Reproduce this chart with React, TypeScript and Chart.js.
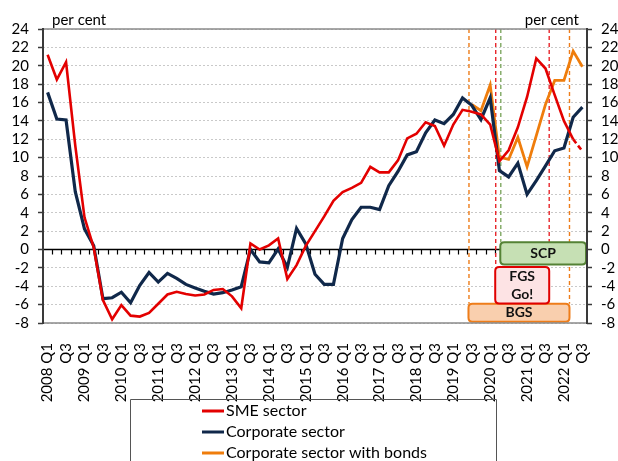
import React, { useEffect, useRef } from 'react';
import { Chart, registerables } from 'chart.js';

Chart.register(...registerables);

const years = [2008, 2009, 2010, 2011, 2012, 2013, 2014, 2015, 2016, 2017, 2018, 2019, 2020, 2021, 2022];
const quarters: string[] = [];
years.forEach((y) => {
  [1, 2, 3, 4].forEach((q) => {
    if (y === 2022 && q > 3) return;
    quarters.push(`${y} Q${q}`);
  });
});

const tickLabels = [
  '2008 Q1', 'Q3', '2009 Q1', 'Q3', '2010 Q1', 'Q3', '2011 Q1', 'Q3', '2012 Q1', 'Q3',
  '2013 Q1', 'Q3', '2014 Q1', 'Q3', '2015 Q1', 'Q3', '2016 Q1', 'Q3', '2017 Q1', 'Q3',
  '2018 Q1', 'Q3', '2019 Q1', 'Q3', '2020 Q1', 'Q3', '2021 Q1', 'Q3', '2022 Q1', 'Q3',
];

const yTicks = [24, 22, 20, 18, 16, 14, 12, 10, 8, 6, 4, 2, 0, -2, -4, -6, -8];

const smeSector = [
  21.2, 18.5, 20.4, 11.3, 3.5, 0.2, -5.5, -7.6, -6.05, -7.2,
  -7.3, -6.9, -5.9, -4.9, -4.6, -4.85, -5.0, -4.9, -4.4, -4.3,
  -5.1, -6.4, 0.65, 0.0, 0.45, 1.2, -3.2, -1.7, 0.4, 2.0,
  3.6, 5.3, 6.25, 6.7, 7.25, 9.0, 8.4, 8.4, 9.7, 12.1,
  12.6, 13.85, 13.45, 11.3, 13.6, 15.2, 15.0, 14.7, 13.6, 9.6,
  10.8, 13.3, 16.6, 20.8, 19.7, 16.8, 14.0, 12.0, 10.7,
];

const corporateSector = [
  17.1, 14.2, 14.1, 6.3, 2.25, 0.4, -5.35, -5.25, -4.65, -5.8,
  -3.9, -2.5, -3.55, -2.6, -3.15, -3.8, -4.2, -4.55, -4.85, -4.7,
  -4.4, -4.05, 0.0, -1.35, -1.45, 0.05, -1.95, 2.3, 0.6, -2.7,
  -3.8, -3.8, 1.2, 3.25, 4.6, 4.6, 4.35, 6.95, 8.5, 10.3,
  10.65, 12.7, 14.1, 13.7, 14.7, 16.5, 15.7, 14.15, 16.5, 8.6,
  7.9, 9.4, 6.0, 7.5, 9.1, 10.75, 11.05, 14.4, 15.5,
];

const corporateWithBonds = [
  null, null, null, null, null, null, null, null, null, null,
  null, null, null, null, null, null, null, null, null, null,
  null, null, null, null, null, null, null, null, null, null,
  null, null, null, null, null, null, null, null, null, null,
  null, null, null, null, null, null, 15.8, 15.1, 17.9, 10.05,
  9.8, 12.2, 9.0, 12.4, 15.8, 18.4, 18.4, 21.6, 19.9,
];

// Programmes: name, start / end as fractional category positions
const programmeNames = ['BGS', 'FGS Go!', 'SCP'];
const programmeStart = [45.7, 48.6, 49.15];
const programmeEnd = [56.6, 54.4, 58.4];

const FONT = 'Lato, "Open Sans", sans-serif';

const progStyle = [
  { top: -5.9, bottom: -7.87, fill: '#f9cfae', stroke: '#ee7d1a', line: '#ee7d1a', lines: ['BGS'], endLine: true },
  { top: -1.9, bottom: -5.88, fill: '#fde3e4', stroke: '#e00000', line: '#e8252a', lines: ['FGS', 'Go!'], endLine: true },
  { top: 0.8, bottom: -1.63, fill: '#c6e0b4', stroke: '#548235', line: '#7fa862', lines: ['SCP'], endLine: false },
];

function roundRect(ctx: CanvasRenderingContext2D, x: number, y: number, w: number, h: number, r: number) {
  ctx.beginPath();
  ctx.moveTo(x + r, y);
  ctx.lineTo(x + w - r, y);
  ctx.quadraticCurveTo(x + w, y, x + w, y + r);
  ctx.lineTo(x + w, y + h - r);
  ctx.quadraticCurveTo(x + w, y + h, x + w - r, y + h);
  ctx.lineTo(x + r, y + h);
  ctx.quadraticCurveTo(x, y + h, x, y + h - r);
  ctx.lineTo(x, y + r);
  ctx.quadraticCurveTo(x, y, x + r, y);
  ctx.closePath();
}

const overlay = {
  id: 'overlay',
  beforeDatasetsDraw(chart: any) {
    const { ctx, chartArea: a, scales } = chart;
    const xs = scales.x;
    const ys = scales.y;
    const y0 = ys.getPixelForValue(0);
    ctx.save();
    // zero line
    ctx.strokeStyle = '#000';
    ctx.lineWidth = 1.5;
    ctx.beginPath();
    ctx.moveTo(a.left, y0);
    ctx.lineTo(a.right, y0);
    ctx.stroke();
    // tick marks between categories
    ctx.lineWidth = 1.2;
    ctx.beginPath();
    for (let k = 1; k < quarters.length; k++) {
      const px = Math.round(xs.getPixelForValue(k - 0.5)) + 0.5;
      ctx.moveTo(px, y0);
      ctx.lineTo(px, y0 + 5);
    }
    ctx.stroke();
    // programme dashed lines
    ctx.setLineDash([4, 3]);
    ctx.lineWidth = 1.4;
    programmeNames.forEach((_, i) => {
      const st = progStyle[i];
      const yTop = ys.getPixelForValue(st.top);
      ctx.strokeStyle = st.line;
      const xsToDraw = [programmeStart[i]];
      if (st.endLine) xsToDraw.push(programmeEnd[i]);
      xsToDraw.forEach((v) => {
        const px = xs.getPixelForValue(v);
        ctx.beginPath();
        ctx.moveTo(px, a.top);
        ctx.lineTo(px, yTop);
        ctx.stroke();
      });
    });
    ctx.restore();
  },
  afterDatasetsDraw(chart: any) {
    const { ctx, chartArea: a, scales } = chart;
    const xs = scales.x;
    const ys = scales.y;
    ctx.save();
    // programme boxes
    programmeNames.forEach((name, i) => {
      const st = progStyle[i];
      const x1 = xs.getPixelForValue(programmeStart[i]) - 0.5;
      const x2 = Math.min(xs.getPixelForValue(programmeEnd[i]), a.right - 1);
      const yT = ys.getPixelForValue(st.top);
      const yB = ys.getPixelForValue(st.bottom);
      roundRect(ctx, x1, yT, x2 - x1, yB - yT, 4);
      ctx.fillStyle = st.fill;
      ctx.fill();
      ctx.lineWidth = 2;
      ctx.strokeStyle = st.stroke;
      ctx.stroke();
      ctx.fillStyle = '#111';
      ctx.font = `bold 14px ${FONT}`;
      ctx.textAlign = 'center';
      ctx.textBaseline = 'middle';
      const cx = (x1 + x2) / 2;
      const cy = (yT + yB) / 2;
      const n = st.lines.length;
      st.lines.forEach((t, j) => {
        ctx.fillText(t, cx, cy + (j - (n - 1) / 2) * 18);
      });
      void name;
    });
    // plot frame
    ctx.lineWidth = 1.5;
    ctx.strokeStyle = '#8a8a8a';
    ctx.beginPath();
    ctx.moveTo(a.left, a.top);
    ctx.lineTo(a.right, a.top);
    ctx.moveTo(a.left, a.bottom);
    ctx.lineTo(a.right, a.bottom);
    ctx.stroke();
    ctx.lineWidth = 2;
    ctx.strokeStyle = '#3a3a3a';
    ctx.beginPath();
    ctx.moveTo(a.left, a.top - 1);
    ctx.lineTo(a.left, a.bottom + 1);
    ctx.moveTo(a.right, a.top - 1);
    ctx.lineTo(a.right, a.bottom + 1);
    ctx.stroke();
    // unit labels
    ctx.fillStyle = '#000';
    ctx.font = `15px ${FONT}`;
    ctx.textBaseline = 'alphabetic';
    ctx.textAlign = 'left';
    ctx.fillText('per cent', a.left + 9, a.top - 4);
    ctx.textAlign = 'right';
    ctx.fillText('per cent', a.right - 8, a.top - 4);
    // legend
    const lx1 = 130.5;
    const lx2 = 496.5;
    const ly1 = 399.5;
    ctx.lineWidth = 1;
    ctx.strokeStyle = '#555';
    ctx.beginPath();
    ctx.moveTo(lx1, chart.height + 2);
    ctx.lineTo(lx1, ly1);
    ctx.lineTo(lx2, ly1);
    ctx.lineTo(lx2, chart.height + 2);
    ctx.stroke();
    ctx.font = `16px ${FONT}`;
    ctx.textAlign = 'left';
    ctx.textBaseline = 'middle';
    chart.data.datasets.forEach((ds: any, i: number) => {
      const cy = 411 + i * 21;
      ctx.strokeStyle = ds.borderColor;
      ctx.lineWidth = 3;
      ctx.beginPath();
      ctx.moveTo(202, cy);
      ctx.lineTo(224, cy);
      ctx.stroke();
      ctx.fillStyle = '#000';
      ctx.fillText(ds.label, 226, cy);
    });
    ctx.restore();
  },
};

export default function App() {
  const ref = useRef<HTMLCanvasElement | null>(null);
  useEffect(() => {
    if (!ref.current) return;
    const chart = new Chart(ref.current, {
      type: 'line',
      data: {
        labels: quarters,
        datasets: [
          {
            label: 'SME sector',
            data: smeSector,
            borderColor: '#e30000',
            borderWidth: 2.6,
            pointRadius: 0,
            tension: 0,
            segment: {
              borderDash: (c: any) => (c.p1DataIndex === smeSector.length - 1 ? [5, 3] : undefined),
            },
          },
          {
            label: 'Corporate sector',
            data: corporateSector,
            borderColor: '#10284a',
            borderWidth: 3.2,
            pointRadius: 0,
            tension: 0,
          },
          {
            label: 'Corporate sector with bonds',
            data: corporateWithBonds,
            borderColor: '#ef7d0c',
            borderWidth: 2.8,
            pointRadius: 0,
            tension: 0,
            spanGaps: false,
          },
        ],
      },
      options: {
        responsive: false,
        animation: false,
        devicePixelRatio: 1,
        layout: { padding: { top: 29, left: 0, right: 0, bottom: 0 } },
        plugins: { legend: { display: false }, tooltip: { enabled: false } },
        scales: {
          x: {
            type: 'category',
            offset: true,
            grid: { display: false },
            border: { display: false },
            afterFit: (s: any) => { s.height = 138; },
            ticks: {
              autoSkip: false,
              minRotation: 90,
              maxRotation: 90,
              padding: 12,
              color: '#000',
              font: { family: FONT, size: 15 },
              callback: (_v: any, idx: number) => (idx % 2 === 0 ? tickLabels[idx / 2] : ''),
            },
          },
          y: {
            position: 'left',
            min: -8,
            max: 24,
            afterFit: (s: any) => { s.width = 43; },
            afterBuildTicks: (s: any) => { s.ticks = yTicks.map((v) => ({ value: v })); },
            grid: { color: '#c9c9c9', lineWidth: 1, tickColor: '#3a3a3a', tickLength: 5, tickWidth: 1.5 },
            border: { display: false, dash: [2, 2] },
            ticks: { autoSkip: false, stepSize: 2, padding: 9, color: '#000', font: { family: FONT, size: 15 } },
          },
          y2: {
            position: 'right',
            min: -8,
            max: 24,
            afterFit: (s: any) => { s.width = 31; },
            afterBuildTicks: (s: any) => { s.ticks = yTicks.map((v) => ({ value: v })); },
            grid: { drawOnChartArea: false, tickColor: '#3a3a3a', tickLength: 5, tickWidth: 1.5 },
            border: { display: false },
            ticks: { autoSkip: false, stepSize: 2, padding: 9, color: '#000', font: { family: FONT, size: 15 } },
          },
        },
      },
      plugins: [overlay],
    } as any);
    return () => chart.destroy();
  }, []);
  return (
    <div style={{ position: 'fixed', left: 0, top: 0, width: 618, height: 461, background: '#fff' }}>
      <canvas ref={ref} width={618} height={461} style={{ display: 'block' }} />
    </div>
  );
}
